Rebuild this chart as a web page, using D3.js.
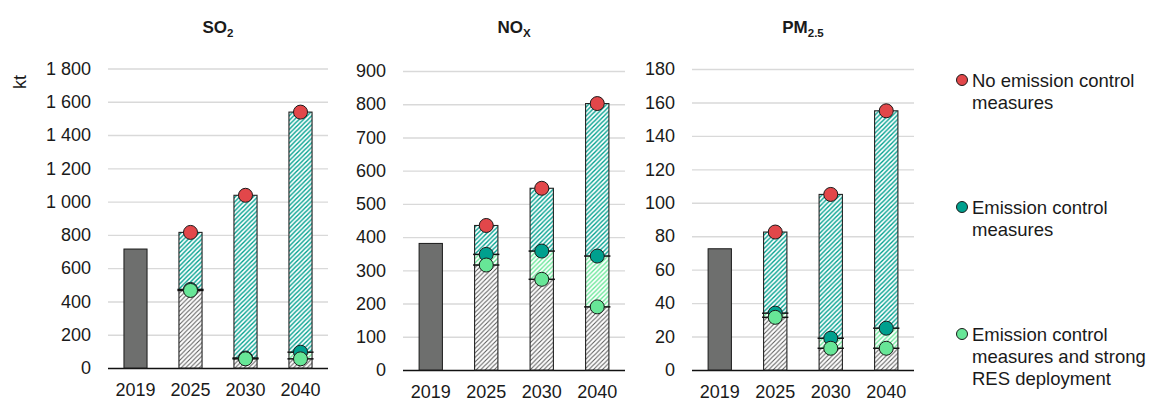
<!DOCTYPE html>
<html><head><meta charset="utf-8">
<script src="https://cdn.jsdelivr.net/npm/d3@7"></script>
<style>
body{margin:0;background:#fff;}
text{font-family:"Liberation Sans",Arial,sans-serif;fill:#1a1a1a;}
</style></head>
<body><svg id="c" width="1151" height="401"></svg>
<script>
// ---- data ----
const years = ["2019","2025","2030","2040"];

const so2Hist       = [715, null, null, null];
const so2NoControl  = [null, 815, 1038, 1538];
const so2Control    = [null, 472, 60, 95];
const so2ControlRES = [null, 466, 55, 55];
const so2Ticks      = [0,200,400,600,800,1000,1200,1400,1600,1800];

const noxHist       = [381, null, null, null];
const noxNoControl  = [null, 435, 547, 802];
const noxControl    = [null, 348, 358, 343];
const noxControlRES = [null, 316, 273, 190];
const noxTicks      = [0,100,200,300,400,500,600,700,800,900];

const pmHist        = [72.5, null, null, null];
const pmNoControl   = [null, 82.5, 105, 155];
const pmControl     = [null, 34, 19, 25];
const pmControlRES  = [null, 31.5, 13, 13];
const pmTicks       = [0,20,40,60,80,100,120,140,160,180];

const legendLabels = [
  ["No emission control","measures"],
  ["Emission control","measures"],
  ["Emission control","measures and strong","RES deployment"]
];

// ---- styling / layout ----
const C = {red:"#E2474A", teal:"#00A08E", green:"#67E697", hist:"#6E6F6E", grid:"#D9D9D9"};
const FONT = "'Liberation Sans',Arial,sans-serif";
const svg = d3.select("#c");
const defs = svg.append("defs");
function hatch(id, color, w){
  const s = 4.5;
  const p = defs.append("pattern").attr("id",id).attr("patternUnits","userSpaceOnUse")
    .attr("width",s).attr("height",s);
  p.append("rect").attr("width",s).attr("height",s).attr("fill","#fff");
  p.append("path").attr("d",`M0,${s} L${s},0 M${-s/2},${s/2} L${s/2},${-s/2} M${s/2},${s*1.5} L${s*1.5},${s/2}`)
    .attr("stroke",color).attr("stroke-width",w).attr("stroke-linecap","butt");
}
hatch("hTeal", C.teal, 1.4); hatch("hGreen", C.green, 1.35); hatch("hGrey", "#5a5a5a", 1.05);

const fmt = v => d3.format(",")(v).replace(/,/g," ");

const panels = [
  {title:"SO", sub:"2", hist:so2Hist, none:so2NoControl, ctrl:so2Control, res:so2ControlRES, ticks:so2Ticks,
   x:[108,328], y:[368,68.5]},
  {title:"NO", sub:"X", hist:noxHist, none:noxNoControl, ctrl:noxControl, res:noxControlRES, ticks:noxTicks,
   x:[403,625], y:[370,71]},
  {title:"PM", sub:"2.5", hist:pmHist, none:pmNoControl, ctrl:pmControl, res:pmControlRES, ticks:pmTicks,
   x:[692,914], y:[370,69]}
];

panels.forEach(p=>{
  const g = svg.append("g");
  const x = d3.scaleBand().domain(years).range(p.x).paddingInner(0.58).paddingOuter(0.29);
  const y = d3.scaleLinear().domain([0, d3.max(p.ticks)]).range(p.y);

  const ax = g.append("g").attr("transform",`translate(${p.x[0]},0)`)
    .call(d3.axisLeft(y).tickValues(p.ticks).tickFormat(fmt).tickSize(-(p.x[1]-p.x[0])).tickPadding(17));
  ax.select(".domain").remove();
  ax.selectAll(".tick line").attr("stroke",C.grid).attr("stroke-width",1.4);
  ax.selectAll(".tick text").attr("font-size",18).attr("fill","#1a1a1a").style("font-family",FONT);
  ax.selectAll(".tick").filter(d=>d===0).select("line").attr("stroke","#111").attr("stroke-width",1.5);

  const xa = g.append("g").attr("transform",`translate(0,${p.y[0]})`)
    .call(d3.axisBottom(x).tickSize(0).tickPadding(15));
  xa.select(".domain").remove();
  xa.selectAll("text").attr("font-size",18).attr("fill","#1a1a1a").style("font-family",FONT);

  const bw = x.bandwidth();
  years.forEach((yr,i)=>{
    if(p.hist[i]!=null){
      g.append("rect").attr("x",x(yr)).attr("y",y(p.hist[i])).attr("width",bw)
        .attr("height",y(0)-y(p.hist[i])).attr("fill",C.hist).attr("stroke","#1a1a1a").attr("stroke-width",1);
    }
  });
  years.forEach((yr,i)=>{
    if(p.none[i]==null) return;
    const segs = [[0,p.res[i],"url(#hGrey)"],[p.res[i],p.ctrl[i],"url(#hGreen)"],[p.ctrl[i],p.none[i],"url(#hTeal)"]];
    segs.forEach(s=>{
      g.append("rect").attr("x",x(yr)).attr("y",y(s[1])).attr("width",bw)
        .attr("height",Math.max(0,y(s[0])-y(s[1]))).attr("fill",s[2]);
    });
    g.append("rect").attr("x",x(yr)).attr("y",y(p.none[i])).attr("width",bw)
      .attr("height",y(0)-y(p.none[i])).attr("fill","none").attr("stroke","#222").attr("stroke-width",1.1);
    [p.res[i],p.ctrl[i]].forEach(v=>{
      g.append("line").attr("x1",x(yr)-1.5).attr("x2",x(yr)+bw+1.5).attr("y1",y(v)).attr("y2",y(v))
        .attr("stroke","#111").attr("stroke-width",1.5);
    });
  });
  [[p.none,C.red],[p.ctrl,C.teal],[p.res,C.green]].forEach(([arr,col])=>{
    g.selectAll(null).data(years.map((yr,i)=>({yr,v:arr[i]})).filter(d=>d.v!=null)).enter()
      .append("circle").attr("cx",d=>x(d.yr)+bw/2).attr("cy",d=>y(d.v)).attr("r",7)
      .attr("fill",col).attr("stroke","#1a1a1a").attr("stroke-width",1);
  });
  const t = g.append("text").attr("x",(p.x[0]+p.x[1])/2).attr("y",33).attr("text-anchor","middle")
    .attr("font-size",17).attr("font-weight","bold");
  t.append("tspan").text(p.title);
  t.append("tspan").attr("font-size",11.5).attr("dy",4).text(p.sub);
});

svg.append("text").attr("transform","translate(26,82) rotate(-90)").attr("text-anchor","middle")
  .attr("font-size",18).text("kt");

const legY = [80, 207, 334];
const legCol = [C.red, C.teal, C.green];
legendLabels.forEach((lines,i)=>{
  svg.append("circle").attr("cx",962).attr("cy",legY[i]).attr("r",5.5)
    .attr("fill",legCol[i]).attr("stroke","#1a1a1a").attr("stroke-width",1);
  const t = svg.append("text").attr("x",972).attr("y",legY[i]+6.5).attr("font-size",18.5);
  lines.forEach((l,j)=>t.append("tspan").attr("x",972).attr("dy",j?22:0).text(l));
});
</script></body></html>
